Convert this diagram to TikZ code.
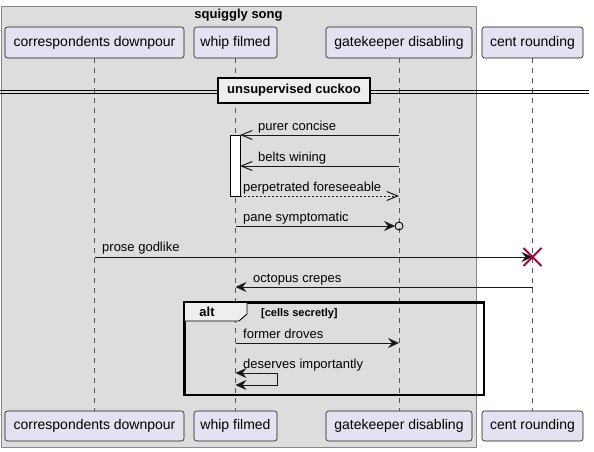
\documentclass[tikz,border=0pt]{standalone}
\usepackage{fontspec}
\setmainfont{Liberation Sans}
\usetikzlibrary{arrows.meta}
\definecolor{partfill}{HTML}{E2E2F0}
\definecolor{boxgray}{HTML}{DDDDDD}
\definecolor{boxedge}{HTML}{888888}
\definecolor{tabfill}{HTML}{EEEEEE}
\definecolor{xred}{HTML}{A80036}
\definecolor{lineblk}{HTML}{181818}
\definecolor{lifegray}{HTML}{555555}
\tikzset{
  barbtip/.tip={Straight Barb[length=11pt,width=9pt,line width=1pt]},
  fulltip/.tip={Stealth[length=11pt,width=10pt,inset=4pt]},
}
\begin{document}
\begin{tikzpicture}[x=1pt,y=-1pt,
  part/.style={draw=lineblk, line width=0.6pt, fill=partfill, rounded corners=2.5pt,
    inner sep=0pt, font=\fontsize{14}{16}\selectfont},
  lifeline/.style={draw=lifegray, line width=0.6pt, dash pattern=on 5pt off 5pt},
  lbl/.style={inner sep=0pt, font=\fontsize{13}{15}\selectfont, anchor=base west},
  msg/.style={draw=lineblk, line width=0.9pt},
  boldlbl/.style={inner sep=0pt, font=\fontsize{13}{15}\selectfont\bfseries},
]
\useasboundingbox (0,0) rectangle (594,452);
\fill[white] (0,0) rectangle (594,452);

% group box
\node[draw=boxedge, fill=boxgray, line width=0.8pt, inner sep=0pt, minimum width=475pt, minimum height=441pt, anchor=north west] (grp) at (1,6) {};
\node[boldlbl] (grpt) at (238.5,15) {squiggly song};

% participants
\node[part, minimum width=179pt, minimum height=31pt] (p1t) at (94.5,42.5) {correspondents downpour};
\node[part, minimum width=83pt, minimum height=31pt] (p2t) at (235.5,42.5) {whip filmed};
\node[part, minimum width=146pt, minimum height=31pt] (p3t) at (399,42.5) {gatekeeper disabling};
\node[part, minimum width=101pt, minimum height=31pt] (p4t) at (532.5,42.5) {cent rounding};
\node[part, minimum width=179pt, minimum height=30pt] (p1b) at (94.5,426) {correspondents downpour};
\node[part, minimum width=83pt, minimum height=30pt] (p2b) at (235.5,426) {whip filmed};
\node[part, minimum width=146pt, minimum height=30pt] (p3b) at (399,426) {gatekeeper disabling};
\node[part, minimum width=101pt, minimum height=30pt] (p4b) at (532.5,426) {cent rounding};

% lifelines
\draw[lifeline] (p1t.south) -- (p1b.north);
\draw[lifeline] (p2t.south) -- (p2b.north);
\draw[lifeline] (p3t.south) -- (p3b.north);
\draw[lifeline] (p4t.south) -- (p4b.north);

% divider
\coordinate (dvl) at (0,92);
\coordinate (dvr) at (589,92);
\draw[black, line width=0.8pt] ([yshift=-1.5pt]dvl) -- ([yshift=-1.5pt]dvr);
\draw[black, line width=0.8pt] ([yshift=1.5pt]dvl) -- ([yshift=1.5pt]dvr);
\node[draw=black, line width=1.5pt, fill=tabfill, inner sep=0pt, minimum width=152pt, minimum height=25pt, font=\fontsize{13}{15}\selectfont\bfseries] (div) at (294,90.5) {unsupervised cuckoo};

% activation
\node[draw=black, line width=0.8pt, fill=white, inner sep=0pt, minimum width=10pt, minimum height=61pt] (act) at (235,165.5) {};

% message coordinates
\coordinate (a1) at (399,135);  \coordinate (b1) at (240,135);
\coordinate (a2) at (399,166);  \coordinate (b2) at (240,166);
\coordinate (a3) at (240,196);  \coordinate (b3) at (399,196);
\coordinate (a4) at (235.5,226); \coordinate (c4) at (399,226); \coordinate (b4) at (395,226);
\coordinate (a5) at (94.5,257); \coordinate (b5) at (532.5,257);
\coordinate (a6) at (532.5,287); \coordinate (b6) at (235.5,287);
\coordinate (a7) at (235.5,343); \coordinate (b7) at (399,343);
\coordinate (a8) at (235.5,373); \coordinate (s1) at (277,373); \coordinate (s2) at (277,385); \coordinate (b8) at (235.5,385);

\draw[msg, -{barbtip}] (a1) -- (b1);
\node[lbl] (l1) at (258,130.5) {purer concise};
\draw[msg, -{barbtip}] (a2) -- (b2);
\node[lbl] (l2) at (258,161) {belts wining};
\draw[msg, dash pattern=on 2pt off 2pt, -{barbtip[sep=0pt]}] (a3) -- (b3);
\node[lbl] (l3) at (243,191.5) {perpetrated foreseeable};
\draw[msg, -{fulltip}] (a4) -- (b4);
\draw[line width=0.9pt, black] (c4) circle[radius=4pt];
\node[lbl] (l4) at (243,221.5) {pane symptomatic};
\draw[msg, -{fulltip}] (a5) -- (b5);
\draw[xred, line width=1.8pt] ([shift={(-9,-9)}]b5) -- ([shift={(9,9)}]b5);
\draw[xred, line width=1.8pt] ([shift={(-9,9)}]b5) -- ([shift={(9,-9)}]b5);
\node[lbl] (l5) at (102,251.5) {prose godlike};
\draw[msg, -{fulltip}] (a6) -- (b6);
\node[lbl] (l6) at (253,282) {octopus crepes};

% alt frame
\node[draw=black, line width=1.5pt, inner sep=0pt, minimum width=299pt, minimum height=92pt, anchor=north west] (alt) at (184,302) {};
\draw[black, line width=0.9pt, fill=tabfill] (alt.north west) -- ++(63,0) -- ++(0,12) -- ++(-8,7) -- ++(-55,0) -- cycle;
\draw[black, line width=1.5pt] (alt.north west) rectangle (alt.south east);
\node[boldlbl] (altl) at (207,311.5) {alt};
\node[inner sep=0pt, font=\fontsize{11}{13}\selectfont\bfseries, anchor=base west] (guard) at (261,316) {[cells secretly]};

\draw[msg, -{fulltip}] (a7) -- (b7);
\node[lbl] (l7) at (243,338) {former droves};
\draw[msg, {fulltip}-{fulltip}] (a8) -- (s1) -- (s2) -- (b8);
\node[lbl] (l8) at (243,368.5) {deserves importantly};
\end{tikzpicture}
\end{document}
